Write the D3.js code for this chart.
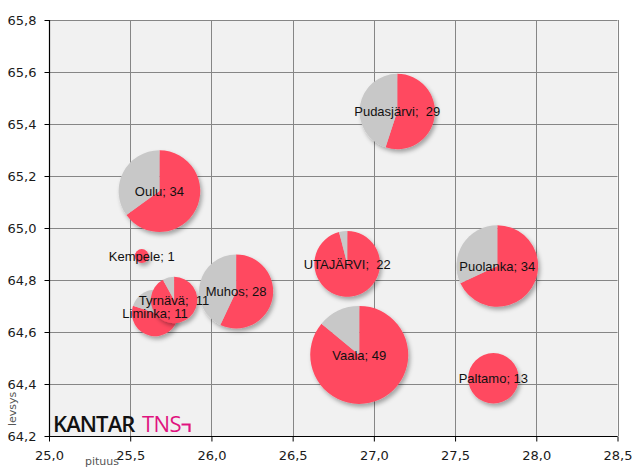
<!DOCTYPE html>
<html>
<head>
<meta charset="utf-8">
<script src="https://cdn.jsdelivr.net/npm/d3@7"></script>
<style>
  html, body { margin: 0; padding: 0; background: #ffffff; }
  svg { display: block; }
</style>
</head>
<body>
<svg id="chart" width="644" height="470"></svg>
<script>
// ---- data ----
const names    = ["Oulu", "Pudasjärvi", "Kempele", "Liminka", "Tyrnävä", "Muhos", "UTAJÄRVI", "Vaala", "Puolanka", "Paltamo"];
const labelSep = ["; ", ";  ", "; ", "; ", ";  ", "; ", ";  ", "; ", "; ", "; "];
const pituus   = [25.68, 27.144, 25.571, 25.653, 25.770, 26.152, 26.836, 26.91, 27.76, 27.736];
const levsys   = [65.142, 65.448, 64.892, 64.673, 64.723, 64.756, 64.862, 64.512, 64.854, 64.422];
const sizes    = [34, 29, 1, 11, 11, 28, 22, 49, 34, 13];
const redShare = [65, 55, 100, 80, 92, 57, 96, 86, 68, 100];   // % of red slice
const xTicks   = [25.0, 25.5, 26.0, 26.5, 27.0, 27.5, 28.0, 28.5];
const yTicks   = [64.2, 64.4, 64.6, 64.8, 65.0, 65.2, 65.4, 65.6, 65.8];

// ---- layout ----
const svg = d3.select("#chart");
const L = 49, R = 617.5, T = 20, B = 436;
const x = d3.scaleLinear().domain([25, 28.5]).range([L, R]);
const y = d3.scaleLinear().domain([64.2, 65.8]).range([B, T]);
const r = d3.scaleSqrt().domain([0, 49]).range([0, 49]);
const fmt = v => d3.format(".1f")(v).replace(".", ",");
const crisp = v => Math.round(v) + 0.5;

const defs = svg.append("defs");
const f = defs.append("filter").attr("id", "shadow")
  .attr("x", "-30%").attr("y", "-30%").attr("width", "170%").attr("height", "170%");
f.append("feDropShadow").attr("dx", 2).attr("dy", 3).attr("stdDeviation", 2)
  .attr("flood-color", "#000").attr("flood-opacity", 0.32);

// plot background
svg.append("rect").attr("x", L).attr("y", T).attr("width", R - L).attr("height", B - T)
  .attr("fill", "#f1f1f1");

// grid
const grid = svg.append("g").attr("stroke", "#868686").attr("stroke-width", 1);
grid.selectAll("line.v").data(xTicks).join("line")
  .attr("x1", d => crisp(x(d))).attr("x2", d => crisp(x(d)))
  .attr("y1", T).attr("y2", B);
grid.selectAll("line.h").data(yTicks).join("line")
  .attr("y1", d => crisp(y(d))).attr("y2", d => crisp(y(d)))
  .attr("x1", L).attr("x2", R);

// axes
const yAxis = d3.axisLeft(y).tickValues(yTicks).tickFormat(fmt).tickSize(5).tickPadding(8);
const gy = svg.append("g").attr("transform", `translate(${crisp(L)},0)`).call(yAxis);
const xAxis = d3.axisBottom(x).tickValues(xTicks).tickFormat(fmt).tickSize(5).tickPadding(9);
const gx = svg.append("g").attr("transform", `translate(0,${crisp(B)})`).call(xAxis);
[gx, gy].forEach(g => {
  g.select(".domain").attr("stroke", "#000").attr("stroke-width", 1.2);
  g.selectAll(".tick line").attr("stroke", "#000");
  g.selectAll(".tick text").attr("fill", "#1a1a1a")
    .style("font-family", "'DejaVu Sans', Verdana, sans-serif").style("font-size", "13px");
});
gy.select(".domain").attr("d", `M0,${T}V${B}`);
gx.select(".domain").attr("d", `M${L},0H${R}`);

// axis titles
svg.append("text").attr("x", 85).attr("y", 465).text("pituus")
  .attr("fill", "#555").style("font-family", "'DejaVu Sans', Verdana, sans-serif").style("font-size", "11px");
svg.append("text").attr("transform", "translate(16,426) rotate(-90)").text("levsys")
  .attr("fill", "#555").style("font-family", "'DejaVu Sans', Verdana, sans-serif").style("font-size", "11px");

// logo
const logo = svg.append("g");
logo.append("text").attr("x", 53).attr("y", 432).text("KANTAR")
  .attr("fill", "#111").style("font-family", "'Open Sans', sans-serif").style("font-weight", 600)
  .style("font-size", "22px").style("letter-spacing", "-0.9px");
logo.append("text").attr("x", 142).attr("y", 432).text("TNS")
  .attr("fill", "#e0147f").style("font-family", "'Open Sans', sans-serif").style("font-weight", 500)
  .style("font-size", "22px").style("letter-spacing", "-0.6px");
logo.append("path").attr("d", "M181.5,424.5H189.5V432").attr("fill", "none")
  .attr("stroke", "#e0147f").attr("stroke-width", 2.2);

// pies
const pie = d3.pie().sort(null).value(d => d);
const arc = d3.arc().innerRadius(0);
const colors = ["#ff4a60", "#c8c8c8"];
const idx = d3.range(names.length);
const pies = svg.append("g").selectAll("g").data(idx).join("g")
  .attr("transform", i => `translate(${x(pituus[i])},${y(levsys[i])})`)
  .attr("filter", "url(#shadow)");
pies.each(function(i) {
  const rad = r(sizes[i]);
  d3.select(this).selectAll("path")
    .data(pie([redShare[i], 100 - redShare[i]]))
    .join("path")
    .attr("d", d => arc.outerRadius(rad)(d))
    .attr("fill", (d, j) => colors[j]);
});

// labels
svg.append("g").selectAll("text").data(idx).join("text")
  .attr("x", i => x(pituus[i]))
  .attr("y", i => y(levsys[i]))
  .attr("text-anchor", "middle").attr("dy", "0.36em")
  .attr("fill", "#111")
  .style("font-family", "'Liberation Sans', Arial, sans-serif").style("font-size", "13px")
  .style("white-space", "pre").attr("xml:space", "preserve")
  .text(i => names[i] + labelSep[i] + sizes[i]);
</script>
</body>
</html>
